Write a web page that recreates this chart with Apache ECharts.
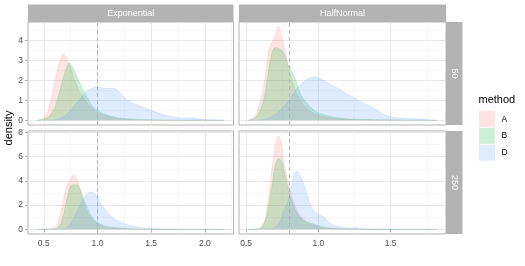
<!DOCTYPE html>
<html><head><meta charset="utf-8">
<script src="https://cdn.jsdelivr.net/npm/echarts@6/dist/echarts.min.js"></script>
<style>html,body{margin:0;padding:0;background:#fff}#c{width:525px;height:266px}</style>
</head><body><div id="c"></div>
<script>
// ---------- labels / scales ----------
const distributions = ['Exponential', 'HalfNormal'];
const sizes = ['50', '250'];
const methods = ['A', 'B', 'D'];
const methodColors = ['#F8766D', '#00BA38', '#619CFF'];
const trueValues = [1, 0.7979];
const xTickVals = [[0.5, 1, 1.5, 2], [0.5, 1, 1.5]];
const xMinorVals = [[0.75, 1.25, 1.75, 2.25], [0.75, 1.25, 1.75]];
const yTickVals = [[0, 1, 2, 3, 4], [0, 2, 4, 6, 8]];
const yMinorVals = [[0.5, 1.5, 2.5, 3.5, 4.5], [1, 3, 5, 7]];

// ---------- Exponential, n = 50 ----------
const e50Ax = [0.44, 0.5, 0.53, 0.56, 0.59, 0.62, 0.65, 0.68, 0.71, 0.74, 0.77, 0.8, 0.85, 0.9, 0.95, 1.0, 1.1, 1.2, 1.3, 1.5, 1.8, 2.18];
const e50Ay = [0, 0.12, 0.35, 0.9, 1.6, 2.4, 3.0, 3.32, 3.15, 2.75, 2.3, 1.85, 1.3, 0.9, 0.6, 0.4, 0.18, 0.08, 0.04, 0.01, 0, 0];
const e50Bx = [0.44, 0.5, 0.55, 0.6, 0.63, 0.66, 0.69, 0.72, 0.735, 0.76, 0.8, 0.85, 0.9, 0.95, 1.0, 1.05, 1.1, 1.2, 1.3, 1.4, 1.6, 1.9, 2.18];
const e50By = [0, 0.05, 0.2, 0.6, 1.1, 1.7, 2.3, 2.75, 2.87, 2.75, 2.3, 1.7, 1.2, 0.75, 0.5, 0.35, 0.25, 0.12, 0.07, 0.04, 0.02, 0.01, 0];
const e50Dx = [0.44, 0.6, 0.65, 0.7, 0.75, 0.8, 0.85, 0.9, 0.95, 1.0, 1.05, 1.1, 1.15, 1.2, 1.25, 1.3, 1.35, 1.4, 1.45, 1.5, 1.55, 1.6, 1.7, 1.8, 1.85, 1.9, 2.0, 2.1, 2.18];
const e50Dy = [0, 0.02, 0.1, 0.25, 0.5, 0.85, 1.15, 1.45, 1.62, 1.68, 1.62, 1.6, 1.6, 1.45, 1.15, 0.95, 0.82, 0.72, 0.6, 0.5, 0.4, 0.3, 0.18, 0.12, 0.13, 0.1, 0.04, 0.02, 0];

// ---------- HalfNormal, n = 50 ----------
const h50Ax = [0.516, 0.56, 0.6, 0.63, 0.65, 0.665, 0.69, 0.71, 0.725, 0.74, 0.76, 0.78, 0.8, 0.82, 0.85, 0.9, 0.95, 1.0, 1.1, 1.2, 1.4, 1.818];
const h50Ay = [0, 0.2, 1.0, 2.1, 3.2, 3.7, 4.1, 4.45, 4.7, 4.35, 3.8, 3.15, 2.5, 1.95, 1.35, 0.75, 0.42, 0.25, 0.1, 0.05, 0.02, 0];
const h50Bx = [0.516, 0.56, 0.6, 0.63, 0.655, 0.68, 0.7, 0.72, 0.75, 0.77, 0.795, 0.82, 0.84, 0.86, 0.885, 0.91, 0.95, 1.0, 1.07, 1.16, 1.25, 1.4, 1.818];
const h50By = [0, 0.1, 0.55, 1.3, 2.5, 3.4, 3.65, 3.62, 3.5, 3.2, 2.7, 2.4, 2.1, 1.65, 1.2, 0.95, 0.63, 0.38, 0.23, 0.1, 0.06, 0.03, 0];
const h50Dx = [0.516, 0.6, 0.65, 0.7, 0.75, 0.8, 0.85, 0.9, 0.94, 0.98, 1.01, 1.05, 1.1, 1.15, 1.2, 1.25, 1.3, 1.35, 1.4, 1.45, 1.5, 1.6, 1.7, 1.818];
const h50Dy = [0, 0.02, 0.1, 0.3, 0.6, 1.05, 1.6, 1.95, 2.12, 2.17, 2.1, 1.95, 1.75, 1.55, 1.32, 1.12, 0.9, 0.75, 0.55, 0.3, 0.18, 0.1, 0.06, 0];

// ---------- Exponential, n = 250 ----------
const e250Ax = [0.44, 0.59, 0.62, 0.64, 0.66, 0.68, 0.7, 0.72, 0.745, 0.765, 0.78, 0.8, 0.82, 0.845, 0.87, 0.89, 0.91, 0.935, 0.96, 1.0, 1.06, 1.15, 1.3, 1.6, 2.18];
const e250Ay = [0, 0.1, 0.35, 0.8, 1.5, 2.3, 3.1, 3.7, 4.15, 4.4, 4.49, 4.3, 3.85, 3.05, 2.3, 1.8, 1.4, 1.0, 0.72, 0.43, 0.2, 0.1, 0.04, 0.01, 0];
const e250Bx = [0.44, 0.6, 0.63, 0.655, 0.685, 0.7, 0.72, 0.745, 0.77, 0.79, 0.81, 0.83, 0.857, 0.88, 0.905, 0.93, 0.95, 0.975, 1.0, 1.06, 1.15, 1.28, 1.5, 2.18];
const e250By = [0, 0.03, 0.15, 0.43, 1.24, 1.9, 2.7, 3.5, 3.68, 3.68, 3.65, 3.5, 2.86, 2.3, 1.78, 1.35, 1.03, 0.75, 0.57, 0.3, 0.14, 0.05, 0.02, 0];
const e250Dx = [0.44, 0.65, 0.69, 0.72, 0.75, 0.795, 0.84, 0.89, 0.935, 0.98, 1.03, 1.06, 1.09, 1.15, 1.21, 1.28, 1.34, 1.4, 1.46, 1.59, 1.8, 2.18];
const e250Dy = [0, 0.01, 0.06, 0.2, 0.43, 1.24, 2.05, 2.8, 3.08, 2.88, 2.2, 1.8, 1.4, 0.9, 0.62, 0.38, 0.24, 0.16, 0.08, 0.03, 0.01, 0];

// ---------- HalfNormal, n = 250 ----------
const h250Ax = [0.516, 0.585, 0.62, 0.643, 0.666, 0.689, 0.705, 0.724, 0.742, 0.758, 0.78, 0.804, 0.827, 0.862, 0.896, 0.942, 1.0, 1.09, 1.2, 1.4, 1.818];
const h250Ay = [0, 0.05, 0.43, 1.5, 3.68, 5.84, 7.05, 7.73, 7.19, 5.84, 4.49, 3.27, 2.32, 1.38, 0.84, 0.43, 0.22, 0.08, 0.03, 0.01, 0];
const h250Bx = [0.516, 0.597, 0.631, 0.654, 0.677, 0.7, 0.724, 0.747, 0.77, 0.793, 0.816, 0.839, 0.873, 0.908, 0.931, 0.965, 1.0, 1.07, 1.16, 1.3, 1.818];
const h250By = [0, 0.08, 0.7, 1.78, 3.4, 5.16, 5.84, 5.57, 4.49, 3.27, 2.32, 1.65, 0.97, 0.65, 0.57, 0.43, 0.3, 0.11, 0.05, 0.02, 0];
const h250Dx = [0.516, 0.677, 0.724, 0.758, 0.793, 0.816, 0.834, 0.85, 0.873, 0.896, 0.919, 0.942, 0.977, 1.011, 1.046, 1.08, 1.115, 1.184, 1.23, 1.253, 1.3, 1.39, 1.818];
const h250Dy = [0, 0.05, 0.43, 1.38, 2.46, 3.68, 4.62, 4.81, 4.49, 3.81, 3.0, 2.05, 1.46, 1.19, 0.92, 0.49, 0.3, 0.14, 0.1, 0.14, 0.05, 0.02, 0];

// ---------- assemble ----------
const panelCurves = [
  [[e50Ax, e50Ay], [e50Bx, e50By], [e50Dx, e50Dy]],
  [[h50Ax, h50Ay], [h50Bx, h50By], [h50Dx, h50Dy]],
  [[e250Ax, e250Ay], [e250Bx, e250By], [e250Dx, e250Dy]],
  [[h250Ax, h250Ay], [h250Bx, h250By], [h250Dx, h250Dy]]
];

const FONT = '"Liberation Sans", Arial, Helvetica, sans-serif';
const colLeft = [28, 239], colWidth = [205.5, 207];
const rowTop = [22, 131], rowHeight = [103, 103];

function expand(lo, hi) { const d = (hi - lo) * 0.05; return [lo - d, hi + d]; }
const xExt = [0, 1].map(c => {
  let lo = Infinity, hi = -Infinity;
  [c, c + 2].forEach(p => panelCurves[p].forEach(cv => cv[0].forEach(v => { lo = Math.min(lo, v); hi = Math.max(hi, v); })));
  return expand(lo, hi);
});
const yExt = [0, 1].map(r => {
  let lo = 0, hi = -Infinity;
  [2 * r, 2 * r + 1].forEach(p => panelCurves[p].forEach(cv => cv[1].forEach(v => { hi = Math.max(hi, v); })));
  return expand(lo, hi);
});

const grids = [], xAxes = [], yAxes = [], series = [];
for (let p = 0; p < 4; p++) {
  const r = Math.floor(p / 2), c = p % 2;
  grids.push({ left: colLeft[c], top: rowTop[r], width: colWidth[c], height: rowHeight[r],
    show: true, backgroundColor: '#fff', borderColor: '#b3b3b3', borderWidth: 1, containLabel: false });
}
for (let p = 0; p < 4; p++) {
  const r = Math.floor(p / 2), c = p % 2;
  xAxes.push({
    type: 'value', gridIndex: p, min: xExt[c][0], max: xExt[c][1],
    axisLine: { show: false },
    axisTick: { show: r === 1, customValues: xTickVals[c], length: 3, lineStyle: { color: '#b3b3b3', width: 1 } },
    axisLabel: { show: r === 1, customValues: xTickVals[c], formatter: v => v.toFixed(1), color: '#4d4d4d',
      fontSize: 8.5, fontFamily: FONT, margin: 5 },
    splitLine: { show: true, lineStyle: { color: '#e3e3e3', width: 0.8 } }
  });
  yAxes.push({
    type: 'value', gridIndex: p, min: yExt[r][0], max: yExt[r][1],
    axisLine: { show: false },
    axisTick: { show: c === 0, customValues: yTickVals[r], length: 3, lineStyle: { color: '#b3b3b3', width: 1 } },
    axisLabel: { show: c === 0, customValues: yTickVals[r], formatter: v => String(v), color: '#4d4d4d',
      fontSize: 8.5, fontFamily: FONT, margin: 5 },
    splitLine: { show: true, lineStyle: { color: '#e3e3e3', width: 0.8 } }
  });
}
for (let p = 0; p < 4; p++) {
  const r = Math.floor(p / 2), c = p % 2;
  xAxes.push({
    type: 'value', gridIndex: p, min: xExt[c][0], max: xExt[c][1],
    axisLine: { show: false }, axisLabel: { show: false, customValues: xMinorVals[c] },
    axisTick: { show: false, customValues: xMinorVals[c] },
    splitLine: { show: true, lineStyle: { color: '#f1f1f1', width: 0.6 } }
  });
  yAxes.push({
    type: 'value', gridIndex: p, min: yExt[r][0], max: yExt[r][1],
    axisLine: { show: false }, axisLabel: { show: false, customValues: yMinorVals[r] },
    axisTick: { show: false, customValues: yMinorVals[r] },
    splitLine: { show: true, lineStyle: { color: '#f1f1f1', width: 0.6 } }
  });
}
for (let p = 0; p < 4; p++) {
  const c = p % 2;
  panelCurves[p].forEach((cv, m) => {
    const s = {
      type: 'line', name: methods[m], xAxisIndex: p, yAxisIndex: p,
      data: cv[0].map((x, i) => [x, cv[1][i]]),
      smooth: 0.3, symbol: 'none', silent: true, z: 3 + m,
      lineStyle: { color: methodColors[m], width: 0.8, opacity: 0.2 },
      areaStyle: { color: methodColors[m], opacity: 0.2 }
    };
    if (m === 2) {
      s.markLine = { silent: true, symbol: ['none', 'none'], label: { show: false }, animation: false,
        lineStyle: { color: '#b8b8b8', type: [4, 3], width: 1 },
        data: [{ xAxis: trueValues[c] }] };
    }
    series.push(s);
  });
}

const graphic = [];
for (let c = 0; c < 2; c++) {
  graphic.push({ type: 'rect', shape: { x: colLeft[c], y: 4.5, width: colWidth[c], height: 17.5 }, style: { fill: '#b3b3b3' }, silent: true });
  graphic.push({ type: 'text', x: colLeft[c] + colWidth[c] / 2, y: 13.5,
    style: { text: distributions[c], fill: '#ffffff', font: '9px ' + FONT, align: 'center', verticalAlign: 'middle' }, silent: true });
}
for (let r = 0; r < 2; r++) {
  graphic.push({ type: 'rect', shape: { x: 446, y: rowTop[r], width: 16.5, height: rowHeight[r] }, style: { fill: '#b3b3b3' }, silent: true });
  graphic.push({ type: 'text', x: 454.5, y: rowTop[r] + rowHeight[r] / 2, rotation: -Math.PI / 2,
    style: { text: sizes[r], fill: '#ffffff', font: '9px ' + FONT, align: 'center', verticalAlign: 'middle' }, silent: true });
}
graphic.push({ type: 'text', x: 8.5, y: 128, rotation: Math.PI / 2,
  style: { text: 'density', fill: '#000', font: '11px ' + FONT, align: 'center', verticalAlign: 'middle' }, silent: true });
graphic.push({ type: 'text', x: 478.5, y: 100,
  style: { text: 'method', fill: '#000', font: '11px ' + FONT, align: 'left', verticalAlign: 'middle' }, silent: true });
methods.forEach((m, i) => {
  const y0 = 111 + i * 16.8;
  graphic.push({ type: 'rect', shape: { x: 479, y: y0, width: 16, height: 16 },
    style: { fill: methodColors[i], opacity: 0.2 }, silent: true });
  graphic.push({ type: 'text', x: 501.5, y: y0 + 8.3,
    style: { text: m, fill: '#000', font: '8.5px ' + FONT, align: 'left', verticalAlign: 'middle' }, silent: true });
});

const chart = echarts.init(document.getElementById('c'), null, { renderer: 'canvas' });
chart.setOption({
  animation: false,
  backgroundColor: '#ffffff',
  grid: grids, xAxis: xAxes, yAxis: yAxes, series: series, graphic: graphic
});
</script>
</body></html>
